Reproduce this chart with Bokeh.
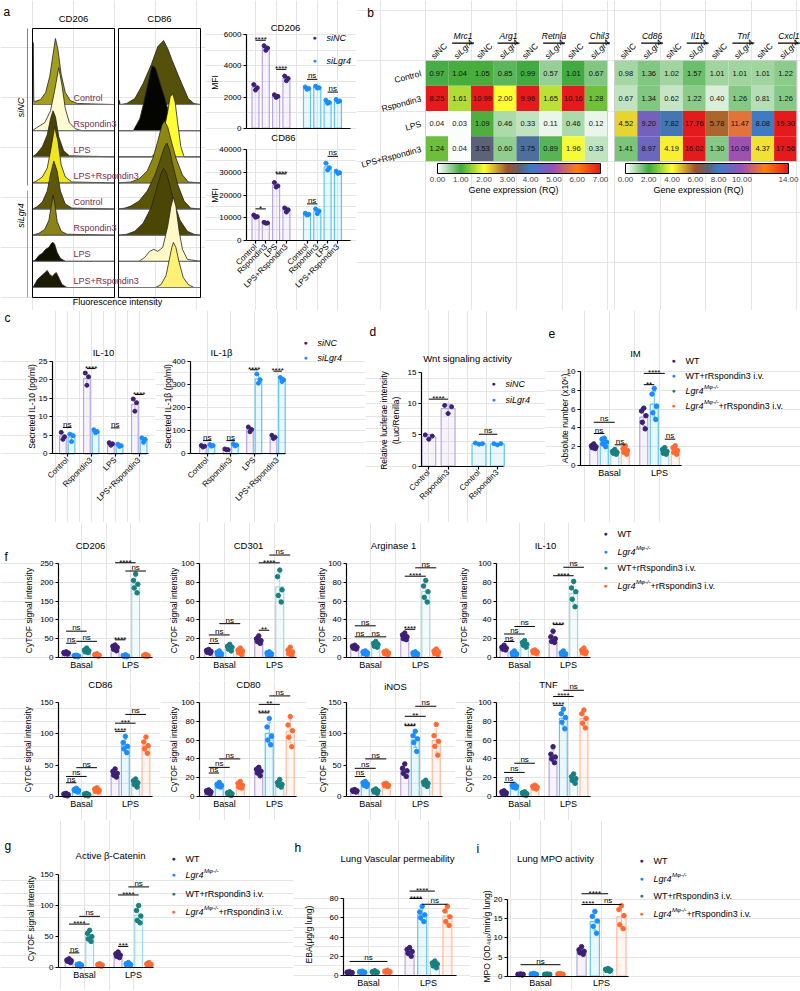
import math
import numpy as np
from bokeh.plotting import figure
from bokeh.layouts import row, column
from bokeh.models import (Range1d, FixedTicker, Label, ColumnDataSource, LinearAxis,
                          LinearColorMapper, ColorBar, PrintfTickFormatter)
from bokeh.transform import linear_cmap
from bokeh.core.properties import value
from bokeh.embed import file_html
from bokeh.resources import INLINE

FONT = "Liberation Sans"

# ---------------- panel a: flow-cytometry histograms ----------------
HIST_ROWS = ["Control", "Rspondin3", "LPS", "LPS+Rspondin3",
             "Control", "Rspondin3", "LPS", "LPS+Rspondin3"]
HIST_CD206_COLORS = ["#a39d1c", "#fffbd0", "#4a4400", "#f0e61e",
                     "#5e570a", "#8a8416", "#111100", "#1a1a05"]
HIST_CD206_X = [
    [0, 0.8, 1.6, 3, 10, 16, 21, 25, 28, 31, 35, 40, 46, 55, 100],
    [0, 5, 15, 22, 27, 32, 36, 40, 45, 52, 60, 100],
    [0, 5, 12, 18, 22, 25, 28, 32, 38, 45, 100],
    [0, 5, 12, 18, 22, 27, 31, 35, 40, 48, 100],
    [0, 5, 12, 18, 22, 26, 30, 34, 40, 48, 100],
    [0, 8, 15, 20, 23, 25, 27, 30, 35, 42, 100],
    [0, 3, 8, 12, 16, 20, 23, 25, 27, 30, 34, 40, 100],
    [0, 2, 6, 10, 14, 18, 21, 24, 26, 29, 32, 36, 42, 100],
]
HIST_CD206_H = [
    [0, 62, 4, 3, 5, 12, 28, 50, 66, 55, 30, 12, 4, 1, 0],
    [0, 3, 8, 20, 40, 63, 45, 22, 8, 2, 0, 0],
    [0, 3, 10, 22, 38, 46, 40, 20, 6, 1, 0],
    [0, 2, 6, 15, 32, 56, 42, 18, 6, 1, 0],
    [0, 2, 7, 18, 35, 48, 38, 18, 5, 1, 0],
    [0, 2, 6, 15, 30, 40, 33, 14, 4, 1, 0],
    [0, 1, 6, 8, 12, 14, 18, 19, 17, 9, 3, 0, 0],
    [0, 2, 8, 11, 14, 17, 13, 11, 13, 15, 10, 3, 0, 0],
]
HIST_CD86_COLORS = ["#55500a", "#050500", "#ffff33", "#8e8812",
                    "#5a5408", "#4c4605", "#fff9c8", "#fff176"]
HIST_CD86_X = [
    [0, 1, 2, 10, 20, 30, 40, 48, 55, 60, 65, 75, 85, 92, 100],
    [0, 18, 22, 26, 30, 34, 38, 41, 45, 48, 52, 56, 60, 64, 68, 100],
    [0, 40, 48, 55, 60, 63, 66, 69, 72, 76, 80, 100],
    [0, 15, 25, 35, 42, 48, 53, 56, 60, 65, 70, 78, 85, 100],
    [0, 8, 15, 25, 35, 45, 52, 56, 59, 62, 66, 72, 80, 88, 100],
    [0, 10, 20, 30, 40, 47, 52, 55, 58, 62, 68, 75, 84, 92, 100],
    [0, 25, 32, 38, 43, 48, 54, 60, 64, 67, 70, 74, 78, 84, 100],
    [0, 45, 52, 58, 62, 65, 67, 70, 74, 79, 85, 92, 100],
]
HIST_CD86_H = [
    [0, 4, 0, 1, 6, 21, 40, 58, 64, 56, 45, 25, 6, 1, 0],
    [0, 0, 6, 12, 25, 40, 55, 65, 63, 55, 44, 34, 22, 10, 0, 0],
    [0, 0, 5, 25, 45, 60, 63, 55, 35, 10, 0, 0],
    [0, 1, 4, 12, 25, 42, 58, 62, 56, 40, 25, 8, 1, 0],
    [0, 1, 3, 8, 18, 35, 52, 62, 66, 60, 45, 25, 8, 1, 0],
    [0, 1, 4, 12, 28, 48, 62, 67, 63, 52, 32, 15, 4, 1, 0],
    [0, 0, 4, 10, 12, 10, 14, 35, 55, 64, 55, 30, 12, 2, 0],
    [0, 0, 3, 12, 28, 40, 45, 40, 25, 10, 3, 0, 0],
]

# ---------------- panel a: MFI bars ----------------
A_GROUPS = ["Control", "Rspondin3", "LPS", "LPS+Rspondin3"]
A_X = [0, 1, 2, 3, 5, 6, 7, 8]
A_CD206_SINC = [[2800, 2600, 2450], [5300, 5150, 5000], [2150, 2050, 1980], [3350, 3200, 3050]]
A_CD206_SILGR4 = [[2650, 2550, 2500], [2700, 2600, 2580], [1800, 1650, 1600], [1850, 1750, 1700]]
A_CD206_SIG = [(0, 1, 5650, "****"), (2, 3, 3780, "****"), (4, 5, 3140, "ns"), (6, 7, 2320, "ns")]
A_CD86_SINC = [[11200, 10500, 10200], [8000, 7700, 7600], [25500, 24000, 23500], [14300, 13500, 12500]]
A_CD86_SILGR4 = [[12000, 11500, 11200], [13900, 13000, 11800], [34000, 32000, 31000], [30500, 29800, 29500]]
A_CD86_SIG = [(0, 1, 13900, "*"), (2, 3, 29300, "****"), (4, 5, 16100, "ns"), (6, 7, 37000, "ns")]

# ---------------- panel b: heatmaps ----------------
HM_ROWS = ["Control", "Rspondin3", "LPS", "LPS+Rspondin3"]
HM_SUB = ["siNC", "siLgr4"]
HM1_GENES = ["Mrc1", "Arg1", "Retnla", "Chil3"]
HM1_VALUES = [
    [0.97, 1.04, 1.05, 0.85, 0.99, 0.57, 1.01, 0.67],
    [8.25, 1.61, 10.99, 2.00, 9.96, 1.65, 10.16, 1.28],
    [0.04, 0.03, 1.09, 0.46, 0.33, 0.11, 0.46, 0.12],
    [1.24, 0.04, 3.53, 0.60, 3.75, 0.89, 1.96, 0.33],
]
HM2_GENES = ["Cd86", "Il1b", "Tnf", "Cxcl1"]
HM2_VALUES = [
    [0.98, 1.36, 1.02, 1.57, 1.01, 1.01, 1.01, 1.22],
    [0.67, 1.34, 0.62, 1.22, 0.40, 1.26, 0.81, 1.26],
    [4.52, 9.20, 7.82, 17.76, 5.78, 11.47, 8.08, 19.30],
    [1.41, 8.97, 4.19, 16.02, 1.30, 10.09, 4.37, 17.56],
]
HM1_TICKS = [0, 1, 2, 3, 4, 5, 6, 7]
HM2_TICKS = [0, 2, 4, 6, 8, 10, 12, 14]

# ---------------- panel c ----------------
C_GROUPS = ["Control", "Rspondin3", "LPS", "LPS+Rspondin3"]
C_IL10_SINC = [[5.8, 4.6, 3.9], [21.8, 20.8, 18.5], [3.0, 2.7, 2.3], [14.8, 13.8, 11.5]]
C_IL10_SILGR4 = [[5.3, 4.9, 3.3], [6.5, 6.0, 5.7], [2.6, 2.2, 2.0], [4.3, 3.9, 3.1]]
C_IL10_SIG = [(0, 7.1, "ns"), (1, 23.0, "****"), (2, 7.0, "ns"), (3, 16.0, "****")]
C_IL1B_SINC = [[36, 33, 29], [21, 18, 17], [116, 105, 95], [80, 72, 66]]
C_IL1B_SILGR4 = [[40, 36, 33], [43, 38, 34], [345, 320, 305], [330, 320, 312]]
C_IL1B_SIG = [(0, 57, "ns"), (1, 57, "ns"), (2, 363, "****"), (3, 357, "****")]

# ---------------- panel d ----------------
D_LABELS = ["Control", "Rspondin3", "Control", "Rspondin3"]
D_X = [0, 1, 2.6, 3.55]
D_SINC = [[5.0, 4.8, 4.3], [9.7, 9.5, 8.4]]
D_SILGR4 = [[3.7, 3.6, 3.5], [3.6, 3.6, 3.4]]
D_SIG = [(0, 1, 10.7, "****"), (2, 3, 5.1, "ns")]

# ---------------- panel e ----------------
GROUPS2 = ["Basal", "LPS"]
E_IM = [[2.3, 2.1, 2.0, 1.9, 1.8], [2.9, 2.8, 2.5, 2.3, 2.0], [1.7, 1.5, 1.4, 1.3, 1.2],
        [2.1, 1.8, 1.6, 1.4, 1.2], [6.1, 5.8, 5.3, 4.6, 3.9], [8.2, 7.6, 6.3, 5.6, 4.9],
        [1.9, 1.7, 1.5, 1.3, 1.2], [2.1, 1.9, 1.6, 1.4, 1.2]]
E_SIG = [(0, 0, 1, 3.4, "ns"), (0, 0, 2, 4.6, "ns"), (0, 2, 3, 2.2, "ns"),
         (1, 0, 2, 9.8, "****"), (1, 0, 1, 8.6, "**"), (1, 2, 3, 2.8, "ns")]

# ---------------- panel f ----------------
F_CD206 = [[15, 13, 12, 10, 9], [6, 5, 4, 3, 2], [25, 20, 18, 15, 13], [10, 8, 6, 5, 3],
           [33, 30, 27, 22, 18], [7, 5, 4, 3, 2], [222, 205, 195, 185, 172], [8, 6, 5, 4, 3]]
F_CD206_SIG = [(0, 0, 1, 38, "ns"), (0, 0, 2, 70, "ns"), (0, 1, 3, 43, "ns"),
               (1, 0, 1, 47, "****"), (1, 0, 2, 252, "****"), (1, 1, 3, 230, "ns")]
F_CD301 = [[8.5, 7.5, 6.5, 5.5, 4.5], [7, 5.5, 4, 3, 2], [14, 12, 11, 9, 7], [10, 8, 7, 5, 3],
           [23, 20, 18, 17, 15], [6, 5, 4, 3, 2], [93, 86, 72, 66, 59], [11, 8, 6, 4, 2]]
F_CD301_SIG = [(0, 0, 1, 15, "ns"), (0, 0, 2, 24, "ns"), (0, 1, 3, 36, "ns"),
               (1, 0, 1, 29, "**"), (1, 0, 2, 100.7, "****"), (1, 1, 3, 109, "ns")]
F_ARG1 = [[13, 12, 11, 10, 9], [7, 6, 5, 4, 3], [17, 15, 14, 12, 11], [7, 6, 5, 4, 3],
          [26, 24, 22, 20, 19], [6, 5, 4, 3, 2], [82, 76, 70, 64, 59], [9, 7, 6, 4, 3]]
F_ARG1_SIG = [(0, 0, 2, 33.7, "ns"), (0, 0, 1, 22, "ns"), (0, 1, 3, 22, "ns"),
              (1, 0, 1, 30, "****"), (1, 0, 2, 86.5, "****"), (1, 1, 3, 95.4, "ns")]
F_IL10 = [[13, 11, 10, 9, 8], [7, 5, 4, 3, 2], [18, 16, 14, 13, 11], [8, 7, 6, 5, 4],
          [28, 22, 20, 17, 16], [7, 5, 4, 3, 2], [81, 74, 70, 62, 54], [10, 8, 6, 5, 4]]
F_IL10_SIG = [(0, 0, 1, 17, "ns"), (0, 0, 2, 25, "ns"), (0, 1, 3, 33, "ns"),
              (1, 0, 1, 35, "****"), (1, 0, 2, 87, "****"), (1, 1, 3, 96, "ns")]
F_CD86 = [[5, 4, 3, 2, 1], [13, 11, 10, 9, 7], [5, 4, 3, 2, 1], [14, 12, 10, 8, 7],
          [44, 40, 37, 34, 31], [96, 86, 80, 76, 70], [28, 25, 22, 19, 15], [95, 87, 81, 76, 69]]
F_CD86_SIG = [(0, 0, 1, 22, "ns"), (0, 0, 2, 32, "ns"), (0, 1, 3, 46, "ns"),
              (1, 0, 1, 104, "****"), (1, 0, 2, 117, "***"), (1, 1, 3, 131, "ns")]
F_CD80 = [[7, 6, 5, 4, 3], [15, 13, 12, 11, 10], [5, 4, 3, 2, 1], [16, 14, 12, 10, 9],
          [31, 29, 27, 25, 22], [83, 74, 64, 60, 55], [18, 15, 13, 12, 10], [85, 76, 70, 63, 53]]
F_CD80_SIG = [(0, 0, 1, 25, "ns"), (0, 0, 2, 31, "ns"), (0, 1, 3, 40, "ns"),
              (1, 0, 1, 89, "****"), (1, 0, 2, 98, "**"), (1, 1, 3, 107, "ns")]
F_INOS = [[11, 10, 9, 8, 7], [24, 22, 20, 18, 16], [12, 10, 9, 7, 5], [21, 20, 18, 17, 16],
          [52, 45, 41, 37, 32], [104, 97, 92, 86, 72], [26, 23, 21, 19, 16], [115, 97, 88, 80, 66]]
F_INOS_SIG = [(0, 0, 1, 32, "ns"), (0, 0, 2, 45, "ns"), (0, 1, 3, 60, "ns"),
              (1, 0, 1, 113, "****"), (1, 0, 2, 128, "**"), (1, 1, 3, 144, "ns")]
F_TNF = [[6, 5, 4, 3, 2], [13, 12, 11, 10, 9], [5, 4, 3, 2, 1], [12, 11, 10, 9, 8],
         [53, 45, 42, 40, 36], [93, 88, 84, 79, 72], [24, 21, 19, 17, 14], [92, 88, 83, 78, 73]]
F_TNF_SIG = [(0, 0, 1, 15, "ns"), (0, 0, 2, 25.6, "ns"), (0, 1, 3, 35.4, "ns"),
             (1, 0, 1, 97, "****"), (1, 0, 2, 106.4, "****"), (1, 1, 3, 113, "ns")]

# ---------------- panels g, h, i ----------------
G_CAT = [[14, 12, 11, 10, 8], [6, 5, 4, 3, 2], [60, 55, 50, 46, 42], [6, 5, 4, 3, 2],
         [25, 22, 20, 18, 16], [8, 6, 5, 4, 3], [100, 92, 83, 76, 72], [8, 6, 5, 4, 3]]
G_SIG = [(0, 0, 1, 23.6, "ns"), (0, 0, 2, 70, "****"), (0, 1, 3, 82.5, "ns"),
         (1, 0, 1, 34, "***"), (1, 0, 2, 117, "****"), (1, 1, 3, 130, "ns")]
H_EBA = [[4, 3.5, 3, 2.5, 2], [4.5, 4, 3.5, 3, 2.5], [5, 4, 3.5, 3, 2.5], [5.5, 4.5, 4, 3.5, 3],
         [29, 27, 25, 23, 20], [72, 66, 63, 60, 56], [15, 13, 12, 10, 8], [72, 67, 61, 56, 52]]
H_SIG = [(0, 0, 3, 14.6, "ns"), (1, 0, 2, 87.7, "****"), (1, 0, 1, 80, "****"), (1, 1, 3, 74, "ns")]
I_MPO = [[0.6, 0.5, 0.5, 0.4, 0.3], [0.7, 0.6, 0.5, 0.5, 0.4], [0.6, 0.5, 0.5, 0.4, 0.4],
         [0.7, 0.6, 0.5, 0.5, 0.4], [7.7, 6.9, 6.5, 6.1, 5.7], [16.9, 15.6, 14.4, 13.0, 11.2],
         [2.0, 1.8, 1.6, 1.5, 1.3], [18.4, 17.4, 15.8, 13.4, 12.4]]
I_SIG = [(0, 0, 3, 3.0, "ns"), (1, 0, 2, 21.5, "****"), (1, 0, 1, 18.7, "****"), (1, 1, 3, 18.7, "ns")]

# ---------------- styling ----------------
PUR, PUR_L = "#3d1f73", "#b9a6de"
BLU, BLU_L = "#1a8cff", "#5cc6f2"
TEA, TEA_L = "#18807f", "#9fd9e3"
ORA, ORA_L = "#ff6a33", "#ffb89c"
DC4 = [PUR, BLU, TEA, ORA] * 2
LC4 = [PUR_L, BLU_L, TEA_L, ORA_L] * 2
HM_STOPS = [(0.0, "#ffffff"), (1 / 7, "#3faa3f"), (2 / 7, "#ffff33"), (3 / 7, "#a0522d"),
            (3.5 / 7, "#5f6070"), (4 / 7, "#3b7dc4"), (5 / 7, "#9a4fb8"), (6 / 7, "#ff7f0e"),
            (1.0, "#e41a1c")]


def make_palette(stops, n=256):
    def rgb(h):
        return tuple(int(h[i:i + 2], 16) for i in (1, 3, 5))
    out = []
    for k in range(n):
        t = k / (n - 1)
        for (t0, c0), (t1, c1) in zip(stops[:-1], stops[1:]):
            if t0 <= t <= t1:
                f = (t - t0) / (t1 - t0)
                a, b = rgb(c0), rgb(c1)
                out.append("#%02x%02x%02x" % tuple(int(round(a[i] + (b[i] - a[i]) * f)) for i in range(3)))
                break
    return out


PAL = make_palette(HM_STOPS)


def base_fig(W, H, xr, yr):
    p = figure(width=W, height=H, x_range=xr, y_range=yr, output_backend="svg",
               toolbar_location=None, x_axis_location=None, y_axis_location=None,
               min_border_left=0, min_border_right=0, min_border_top=0, min_border_bottom=0)
    p.outline_line_color = None
    return p


def gtext(p, x, y, s, size=9, align="center", baseline="middle", angle=0.0,
          color="black", style="normal", rng=None):
    kw = {"x_range_name": rng} if rng else {}
    p.text(x=[x], y=[y], text=[s], text_font=value(FONT), text_font_size=f"{size}px",
           text_align=align, text_baseline=baseline, angle=angle, text_color=color,
           text_font_style=style, **kw)


def lab(p, geo, x, y, s, size=9, align="center", baseline="middle", angle=0.0,
        color="black", style="normal"):
    X0, YB = geo
    p.add_layout(Label(x=x - X0, y=YB - y, x_units="screen", y_units="screen", text=s,
                       text_font=FONT, text_font_size=f"{size}px", text_align=align,
                       text_baseline=baseline, angle=angle, text_color=color,
                       text_font_style=style))


def style_axis(ax):
    ax.axis_line_color = "black"
    ax.axis_line_width = 1.2
    ax.major_tick_line_color = "black"
    ax.major_tick_line_width = 1.2
    ax.minor_tick_line_color = None
    ax.major_label_text_font = FONT
    ax.major_label_text_font_size = "8px"
    ax.major_label_text_color = "black"
    ax.major_tick_in = 0
    ax.major_label_standoff = 2


def chart(X0, Y0, W, H, x0, kx, ax_img, xend_img, zero_img, top_img, top, yticks,
          xticks, xlabels, rot=0.0):
    """Frame fills the canvas; axes are drawn at fixed data locations."""
    ky = (zero_img - top_img) / top
    xr = Range1d((X0 - x0) / kx, (X0 + W - x0) / kx)
    yr = Range1d((zero_img - (Y0 + H)) / ky, (zero_img - Y0) / ky)
    p = base_fig(W, H, xr, yr)
    axx = (ax_img - x0) / kx
    ya = LinearAxis(fixed_location=axx, bounds=(0, top), ticker=FixedTicker(ticks=yticks))
    xa = LinearAxis(fixed_location=0, bounds=(axx, (xend_img - x0) / kx),
                    ticker=FixedTicker(ticks=list(xticks)))
    style_axis(ya)
    style_axis(xa)
    ya.major_tick_out = 3
    xa.major_label_overrides = {t: s for t, s in zip(xticks, xlabels)}
    if rot:
        xa.major_label_orientation = rot
        xa.major_tick_out = 3
    else:
        xa.major_tick_out = 0
        xa.major_label_text_font_size = "9px"
    p.add_layout(ya, "left")
    p.add_layout(xa, "below")
    return p, (X0, Y0 + H)


JIT = {3: [-0.25, 0.25, 0.0], 5: [0.0, -0.28, 0.28, -0.18, 0.18]}


def bars(p, xs, data, dcols, lcols, bw, psize=4.5):
    bx, bt, bc = [], [], []
    e0, e1, ex, ec = [], [], [], []
    cx0, cx1, cy, cc = [], [], [], []
    px, py, pc = [], [], []
    for x, vals, dc, lc in zip(xs, data, dcols, lcols):
        m = float(np.mean(vals))
        sd = float(np.std(vals, ddof=1))
        bx.append(x); bt.append(m); bc.append(lc)
        ex.append(x); e0.append(m - sd); e1.append(m + sd); ec.append(lc)
        for yy in (m - sd, m + sd):
            cx0.append(x - bw * 0.22); cx1.append(x + bw * 0.22); cy.append(yy); cc.append(lc)
        for o, v in zip(JIT[len(vals)], sorted(vals, reverse=True)):
            px.append(x + o * bw); py.append(v); pc.append(dc)
    p.vbar(x=bx, top=bt, width=bw, bottom=0, fill_color=bc, fill_alpha=0.13,
           line_color=bc, line_width=1.2)
    p.segment(x0=ex, y0=e0, x1=ex, y1=e1, line_color=ec, line_width=1)
    p.segment(x0=cx0, y0=cy, x1=cx1, y1=cy, line_color=cc, line_width=1)
    p.scatter(x=px, y=py, size=psize, fill_color=pc, line_color=pc)


def sigs(p, xs, items):
    for a, b, y, t in items:
        p.segment(x0=[xs[a]], y0=[y], x1=[xs[b]], y1=[y], line_color="black", line_width=1)
        p.text(x=[(xs[a] + xs[b]) / 2], y=[y], text=[t], text_font=value(FONT),
               text_font_size="8px", text_align="center", text_baseline="bottom",
               y_offset=(4 if "*" in t else 1))


def xs4(d):
    return [g + (i - 1.5) * d for g in (0, 1) for i in range(4)]


def idx4(items):
    return [(4 * g + i, 4 * g + j, y, t) for g, i, j, y, t in items]


LEG_WT = [("WT", "normal", 9, 0, 0)]
LEG_LGR4 = [("Lgr4", "italic", 9, 0, 18.5), ("M\u03c6-/-", "italic", 6, -3.5, 0)]
LEG_WTR = [("WT+rRspondin3 i.v.", "normal", 9, 0, 0)]
LEG_LGR4R = [("Lgr4", "italic", 9, 0, 18.5), ("M\u03c6-/-", "italic", 6, -3.5, 14.5),
             ("+rRspondin3 i.v.", "normal", 9, 0, 0)]


def legend(p, geo, xdot, ys, items):
    for y, (col, parts) in zip(ys, items):
        lab(p, geo, xdot, y, "\u25cf", size=7, color=col)
        x = xdot + 12
        for text, style, sz, dy, w in parts:
            lab(p, geo, x, y + dy, text, size=sz, align="left", style=style)
            x += w


# ---------------- panel a histograms ----------------
def hist_fig():
    X0, Y0, W, H = 0, 0, 205, 310
    k = 0.82
    p = base_fig(W, H, Range1d((X0 - 32) / k, (X0 + W - 32) / k), Range1d(297 - (Y0 + H), 297 - Y0))
    p.extra_x_ranges = {"cd86": Range1d((X0 - 118) / k, (X0 + W - 118) / k)}
    for rng, XX, HH, cols, title in ((None, HIST_CD206_X, HIST_CD206_H, HIST_CD206_COLORS, "CD206"),
                                     ("cd86", HIST_CD86_X, HIST_CD86_H, HIST_CD86_COLORS, "CD86")):
        kw = {"x_range_name": rng} if rng else {}
        for i in range(8):
            base = 10 + 26.14 * (7 - i)
            p.patch(XX[i], [base + h for h in HH[i]], fill_color=cols[i],
                    line_color="#222222", line_width=0.8, **kw)
            p.segment(x0=[0], y0=[base], x1=[100], y1=[base], line_color="#777777",
                      line_width=1, **kw)
        p.quad(left=[0], right=[100], bottom=[0], top=[269], fill_color=None,
               line_color="black", line_width=1, **kw)
        gtext(p, 50, 279, title, size=9.5, rng=rng)
    for i, name in enumerate(HIST_ROWS):
        base = 10 + 26.14 * (7 - i)
        gtext(p, 50, base + 7, name, size=9, align="left", color="#7a2b50")
    gtext(p, (20 - 32) / k, 297 - 107, "siNC", size=9, angle=math.pi / 2, style="italic")
    gtext(p, (20 - 32) / k, 297 - 215, "siLgr4", size=9, angle=math.pi / 2, style="italic")
    p.segment(x0=[(27 - 32) / k], y0=[112], x1=[(27 - 32) / k], y1=[269], line_color="#5f8fa3", line_width=1)
    p.segment(x0=[(27 - 32) / k], y0=[0], x1=[(27 - 32) / k], y1=[107], line_color="#8fa2c8", line_width=1)
    gtext(p, (117 - 32) / k, -4, "Fluorescence intensity", size=9)
    gtext(p, (3 - 32) / k, 286, "a", size=12, align="left")
    return p


# ---------------- panel b heatmaps ----------------
def heat_fig(X0, W, CL, CW, genes, vals, vmax, ticks, cb_left, title_x, rows=None, letter=None):
    Y0, H, RT, RH = 0, 310, 60.0, 25.25
    xr = Range1d((X0 - CL) / CW, (X0 + W - CL) / CW)
    yr = Range1d(-(Y0 + H - RT) / RH, -(Y0 - RT) / RH)
    p = base_fig(W, H, xr, yr)
    xs, ys, vs, ts = [], [], [], []
    for r, rv in enumerate(vals):
        for c, v in enumerate(rv):
            xs.append(c + 0.5); ys.append(-(r + 0.5)); vs.append(v); ts.append("%.2f" % v)
    src = ColumnDataSource(dict(x=xs, y=ys, v=vs, t=ts))
    p.rect(x="x", y="y", width=1, height=1, source=src,
           fill_color=linear_cmap("v", PAL, 0, vmax, high_color=PAL[-1]), line_color=None)
    p.text(x="x", y="y", text="t", source=src, text_font=value(FONT), text_font_size="7.5px",
           text_align="center", text_baseline="middle", text_color="#111111")
    p.quad(left=[0], right=[8], top=[0], bottom=[-4], fill_color=None, line_color="#cfcfcf")
    for c in range(8):
        gtext(p, c + 0.3, 0.12, HM_SUB[c % 2], size=8.5, align="left", angle=math.pi / 4,
              style=("italic" if c % 2 else "normal"))
    for g, name in enumerate(genes):
        cx = 2 * g + 1.65
        gtext(p, cx, 0.98, name, size=8.5, style="italic")
        p.segment(x0=[cx - 0.48], y0=[0.69], x1=[cx + 0.48], y1=[0.69], line_color="black", line_width=1.3)
    if rows:
        for r, name in enumerate(rows):
            gtext(p, -0.2, -(r + 0.5), name, size=8.5, align="right", angle=math.radians(15))
    if letter:
        gtext(p, (370 - CL) / CW, -(12 - RT) / RH, letter, size=12)
    mapper = LinearColorMapper(palette=PAL, low=0, high=vmax)
    cb = ColorBar(color_mapper=mapper, orientation="horizontal", width=163, height=10,
                  padding=0, margin=0, ticker=FixedTicker(ticks=ticks),
                  formatter=PrintfTickFormatter(format="%.2f"),
                  major_label_text_font=FONT, major_label_text_font_size="8px",
                  major_tick_line_color=None, bar_line_color="black", bar_line_width=1,
                  background_fill_color=None, border_line_color=None, label_standoff=3,
                  location=(cb_left - X0, H - 184))
    p.add_layout(cb)
    lab(p, (X0, Y0 + H), title_x, 189, "Gene expression (RQ)", size=9)
    return p


# ================= build =================
ha = hist_fig()

# a: MFI bars
bt, gbt = chart(205, 0, 151, 132, 255, 10.3, 246, 350, 127.7, 34.3, 6000,
                [0, 2000, 4000, 6000], [], [])
bars(bt, A_X, A_CD206_SINC + A_CD206_SILGR4, [PUR] * 4 + [BLU] * 4, [PUR_L] * 4 + [BLU_L] * 4, 0.68, 4)
sigs(bt, A_X, A_CD206_SIG)
lab(bt, gbt, 285, 27, "CD206", size=9.5)
lab(bt, gbt, 214, 82, "MFI", size=8.5, angle=math.pi / 2)
legend(bt, gbt, 314, [37, 60], [(PUR, [("siNC", "italic", 9, 0, 0)]), (BLU, [("siLgr4", "italic", 9, 0, 0)])])

bb, gbb = chart(205, 132, 151, 178, 255, 10.3, 246, 350, 240, 149, 40000,
                [0, 10000, 20000, 30000, 40000], A_X, A_GROUPS * 2, rot=math.pi / 4)
bars(bb, A_X, A_CD86_SINC + A_CD86_SILGR4, [PUR] * 4 + [BLU] * 4, [PUR_L] * 4 + [BLU_L] * 4, 0.68, 4)
sigs(bb, A_X, A_CD86_SIG)
lab(bb, gbb, 283, 137, "CD86", size=9.5)
lab(bb, gbb, 214, 195, "MFI", size=8.5, angle=math.pi / 2)

hm1 = heat_fig(356, 254, 425, 22.75, HM1_GENES, HM1_VALUES, 7, HM1_TICKS, 437, 513, rows=HM_ROWS, letter="b")
hm2 = heat_fig(610, 190, 614, 22.8, HM2_GENES, HM2_VALUES, 14, HM2_TICKS, 625, 698)

# c
CX = [g + o for g in range(4) for o in (-0.18, 0.18)]
c1, gc1 = chart(0, 310, 155, 212, 66.7, 24, 52, 148, 453.3, 360.7, 25,
                [0, 5, 10, 15, 20, 25], [0, 1, 2, 3], C_GROUPS, rot=math.pi / 4)
bars(c1, CX, [v for pair in zip(C_IL10_SINC, C_IL10_SILGR4) for v in pair], [PUR, BLU] * 4, [PUR_L, BLU_L] * 4, 0.28, 4)
sigs(c1, CX, [(2 * g, 2 * g + 1, y, t) for g, y, t in C_IL10_SIG])
lab(c1, gc1, 103, 352, "IL-10", size=9.5)
lab(c1, gc1, 31, 406, "Secreted IL-10 (pg/ml)", size=8.5, angle=math.pi / 2)
lab(c1, gc1, 4, 317, "c", size=12, align="left")

c2, gc2 = chart(155, 310, 210, 212, 206.7, 23.5, 190, 285, 453.3, 360.7, 400,
                [0, 100, 200, 300, 400], [0, 1, 2, 3], C_GROUPS, rot=math.pi / 4)
bars(c2, CX, [v for pair in zip(C_IL1B_SINC, C_IL1B_SILGR4) for v in pair], [PUR, BLU] * 4, [PUR_L, BLU_L] * 4, 0.28, 4)
sigs(c2, CX, [(2 * g, 2 * g + 1, y, t) for g, y, t in C_IL1B_SIG])
lab(c2, gc2, 221, 352, "IL-1\u03b2", size=9.5)
lab(c2, gc2, 167, 406, "Secreted IL-1\u03b2 (pg/ml)", size=8.5, angle=math.pi / 2)
legend(c2, gc2, 305, [342, 357], [(PUR, [("siNC", "italic", 9, 0, 0)]), (BLU, [("siLgr4", "italic", 9, 0, 0)])])

# d
dd, gdd = chart(365, 310, 180, 212, 428.3, 19.3, 421, 503, 465.7, 371.7, 15,
                [0, 5, 10, 15], D_X, D_LABELS, rot=math.pi / 4)
bars(dd, D_X, D_SINC + D_SILGR4, [PUR, PUR, BLU, BLU], [PUR_L, PUR_L, BLU_L, BLU_L], 0.72, 4)
sigs(dd, D_X, D_SIG)
lab(dd, gdd, 467, 358, "Wnt signaling activity", size=9.5)
lab(dd, gdd, 383, 420, "Relative luciferae intensity", size=8.5, angle=math.pi / 2)
lab(dd, gdd, 395, 420, "(Luc/Renilla)", size=8.5, angle=math.pi / 2)
lab(dd, gdd, 369, 331, "d", size=12, align="left")
legend(dd, gdd, 493, [383, 399], [(PUR, [("siNC", "italic", 9, 0, 0)]), (BLU, [("siLgr4", "italic", 9, 0, 0)])])

# e
ee, gee = chart(545, 310, 255, 212, 609, 50, 580, 681, 465, 371, 10,
                [0, 2, 4, 6, 8, 10], [0, 1], GROUPS2)
EX = xs4(0.21)
bars(ee, EX, E_IM, DC4, LC4, 0.16)
sigs(ee, EX, idx4(E_SIG))
lab(ee, gee, 635, 353, "IM", size=9.5)
lab(ee, gee, 564, 418, "Absolute number (x10\u2076)", size=8.5, angle=math.pi / 2)
lab(ee, gee, 548, 333, "e", size=12, align="left")
legend(ee, gee, 673, [360, 375, 390, 405],
       [(PUR, LEG_WT), (BLU, LEG_WTR), (TEA, LEG_LGR4), (ORA, LEG_LGR4R)])

# f
COLS = [(0, 160, 58, 81, 130, 152), (160, 146, 199, 224, 274, 296),
        (306, 149, 346, 370, 420, 442), (455, 345, 496, 519, 568, 590)]
T20 = [0, 20, 40, 60, 80, 100]


def fchart(col, Y0, H, zero_img, top_img, top, yticks, data, sig, title, tx, ty, ylx, yly):
    X0, W, AX, BC, LC, FR = col
    p, geo = chart(X0, Y0, W, H, BC, LC - BC, AX, FR, zero_img, top_img, top, yticks, [0, 1], GROUPS2)
    xs = xs4(0.21)
    bars(p, xs, data, DC4, LC4, 0.16)
    sigs(p, xs, idx4(sig))
    lab(p, geo, tx, ty, title, size=9.5)
    lab(p, geo, ylx, yly, "CyTOF signal intensity", size=8.5, angle=math.pi / 2)
    return p, geo


row3 = [fchart(COLS[0], 522, 158, 657, 563, 250, [0, 50, 100, 150, 200, 250], F_CD206, F_CD206_SIG, "CD206", 90, 545, 28, 610),
        fchart(COLS[1], 522, 158, 657, 563, 100, T20, F_CD301, F_CD301_SIG, "CD301", 248, 545, 173, 610),
        fchart(COLS[2], 522, 158, 657, 563, 100, T20, F_ARG1, F_ARG1_SIG, "Arginase 1", 393, 545, 321, 610),
        fchart(COLS[3], 522, 158, 657, 563, 100, T20, F_IL10, F_IL10_SIG, "IL-10", 545, 545, 463, 610)]
lab(row3[0][0], row3[0][1], 4, 556, "f", size=12, align="left")
legend(row3[3][0], row3[3][1], 605, [533, 551, 567, 585],
       [(PUR, LEG_WT), (BLU, LEG_LGR4), (TEA, LEG_WTR), (ORA, LEG_LGR4R)])

row4 = [fchart(COLS[0], 680, 140, 796, 702, 150, [0, 50, 100, 150], F_CD86, F_CD86_SIG, "CD86", 100, 684, 27, 749),
        fchart(COLS[1], 680, 140, 796, 702, 100, T20, F_CD80, F_CD80_SIG, "CD80", 248, 684, 173, 749),
        fchart(COLS[2], 680, 140, 796, 702, 150, [0, 50, 100, 150], F_INOS, F_INOS_SIG, "iNOS", 395, 686, 322, 749),
        fchart(COLS[3], 680, 140, 796, 702, 100, T20, F_TNF, F_TNF_SIG, "TNF", 548, 684, 468, 749)]

# g
gg, ggg = chart(0, 820, 293, 170, 84, 49, 58, 153, 967, 874, 150,
                [0, 50, 100, 150], [0, 1], GROUPS2)
GX = xs4(0.21)
bars(gg, GX, G_CAT, DC4, LC4, 0.16)
sigs(gg, GX, idx4(G_SIG))
lab(gg, ggg, 110, 855, "Active \u03b2-Catenin", size=9.5)
lab(gg, ggg, 30, 918, "CyTOF signal intensity", size=8.5, angle=math.pi / 2)
lab(gg, ggg, 4, 845, "g", size=12, align="left")
legend(gg, ggg, 173, [858, 874, 893, 911],
       [(PUR, LEG_WT), (BLU, LEG_LGR4), (TEA, LEG_WTR), (ORA, LEG_LGR4R)])

# h
hh, ghh = chart(293, 820, 177, 170, 368, 60, 343, 456, 975, 898, 80,
                [0, 20, 40, 60, 80], [0, 1], GROUPS2)
HX = xs4(0.21)
bars(hh, HX, H_EBA, DC4, LC4, 0.15)
sigs(hh, HX, idx4(H_SIG))
lab(hh, ghh, 397, 858, "Lung Vascular permeability", size=9.5)
lab(hh, ghh, 308, 934, "EBA(\u03bcg/g lung)", size=8.5, angle=math.pi / 2)
lab(hh, ghh, 294, 847, "h", size=12, align="left")

# i
ii, gii = chart(470, 820, 330, 170, 540, 61, 507, 628, 975.7, 899, 20,
                [0, 5, 10, 15, 20], [0, 1], GROUPS2)
IX = xs4(0.218)
bars(ii, IX, I_MPO, DC4, LC4, 0.15)
sigs(ii, IX, idx4(I_SIG))
lab(ii, gii, 555, 858, "Lung MPO activity", size=9.5)
lab(ii, gii, 486, 936, "MPO (OD\u2084\u2086\u2080/min/g lung)", size=8.5, angle=math.pi / 2)
lab(ii, gii, 476, 848, "i", size=12, align="left")
legend(ii, gii, 641, [860, 878, 895, 913],
       [(PUR, LEG_WT), (BLU, LEG_LGR4), (TEA, LEG_WTR), (ORA, LEG_LGR4R)])

layout = column(
    row(ha, column(bt, bb), hm1, hm2),
    row(c1, c2, dd, ee),
    row(*[p for p, _ in row3]),
    row(*[p for p, _ in row4]),
    row(gg, hh, ii),
)

open("out.html", "w").write(file_html(layout, INLINE))
